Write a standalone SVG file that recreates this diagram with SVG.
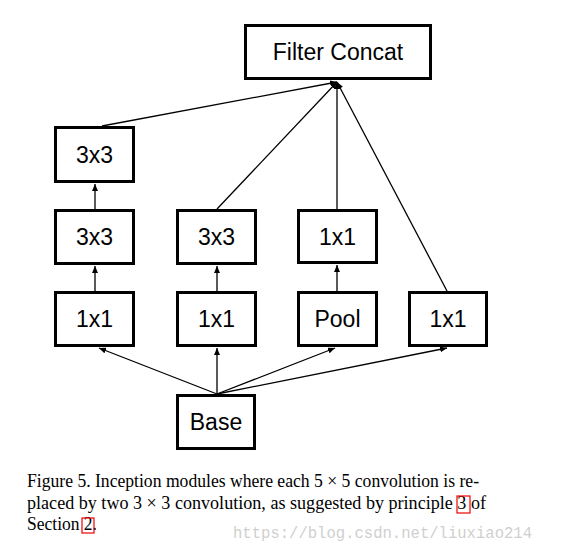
<svg xmlns="http://www.w3.org/2000/svg" width="581" height="553" viewBox="0 0 581 553">
<style>
.box{fill:#fff;stroke:#000;stroke-width:3}
.lbl{font-family:"Liberation Sans",Arial,sans-serif;font-size:23px;text-anchor:middle;fill:#000}
.c{stroke:#000;stroke-width:1.3;fill:none}
.cap{font-family:"Liberation Serif","Times New Roman",serif;font-size:19.5px;fill:#000}
.ref{fill:none;stroke:#e00;stroke-width:1.2}
.wm{font-family:"Liberation Mono","DejaVu Sans Mono",monospace;font-size:16px;fill:#cfcfcf}
</style>
<defs>
<marker id="ah" markerUnits="userSpaceOnUse" markerWidth="8" markerHeight="6" refX="7" refY="3" orient="auto">
<path d="M0,0 L7,3 L0,6 z" fill="#000"/>
</marker>
</defs>
<rect width="581" height="553" fill="#fff"/>
<g id="connectors">
<line class="c" x1="102" y1="126" x2="337" y2="82" marker-end="url(#ah)"/>
<line class="c" x1="217" y1="209" x2="337" y2="82" marker-end="url(#ah)"/>
<line class="c" x1="337" y1="209" x2="337" y2="82" marker-end="url(#ah)"/>
<line class="c" x1="447" y1="291" x2="337" y2="82" marker-end="url(#ah)"/>
<line class="c" x1="95" y1="209" x2="95" y2="184" marker-end="url(#ah)"/>
<line class="c" x1="95" y1="291" x2="95" y2="266" marker-end="url(#ah)"/>
<line class="c" x1="217" y1="291" x2="217" y2="266" marker-end="url(#ah)"/>
<line class="c" x1="337" y1="291" x2="337" y2="265" marker-end="url(#ah)"/>
<line class="c" x1="217" y1="394" x2="99" y2="348" marker-end="url(#ah)"/>
<line class="c" x1="217" y1="394" x2="217" y2="348" marker-end="url(#ah)"/>
<line class="c" x1="217" y1="394" x2="335" y2="348" marker-end="url(#ah)"/>
<line class="c" x1="217" y1="394" x2="447" y2="348" marker-end="url(#ah)"/>
</g>
<g id="concat"><rect class="box" x="245.5" y="25.5" width="185" height="53"/><text class="lbl" x="338" y="59.5">Filter Concat</text></g>
<g id="c1_3x3b"><rect class="box" x="55.5" y="127.5" width="78" height="54"/><text class="lbl" x="94.5" y="162.5">3x3</text></g>
<g id="c1_3x3a"><rect class="box" x="55.5" y="210.5" width="78" height="53"/><text class="lbl" x="94.5" y="245">3x3</text></g>
<g id="c1_1x1"><rect class="box" x="55.5" y="292.5" width="78" height="53"/><text class="lbl" x="94.5" y="327">1x1</text></g>
<g id="c2_3x3"><rect class="box" x="177.5" y="210.5" width="78" height="53"/><text class="lbl" x="216.5" y="245">3x3</text></g>
<g id="c2_1x1"><rect class="box" x="177.5" y="292.5" width="78" height="53"/><text class="lbl" x="216.5" y="327">1x1</text></g>
<g id="c3_1x1"><rect class="box" x="298.5" y="210.5" width="78" height="52"/><text class="lbl" x="337.5" y="244.5">1x1</text></g>
<g id="c3_pool"><rect class="box" x="298.5" y="292.5" width="78" height="53"/><text class="lbl" x="337.5" y="327">Pool</text></g>
<g id="c4_1x1"><rect class="box" x="409.5" y="292.5" width="77" height="53"/><text class="lbl" x="448" y="327">1x1</text></g>
<g id="base"><rect class="box" x="177.5" y="395.5" width="77" height="53"/><text class="lbl" x="216" y="430">Base</text></g>
<text class="cap" x="27" y="487" textLength="452" lengthAdjust="spacingAndGlyphs">Figure 5. Inception modules where each 5 × 5 convolution is re-</text>
<text class="cap" x="27" y="509" textLength="459" lengthAdjust="spacingAndGlyphs">placed by two 3 × 3 convolution, as suggested by principle 3 of</text>
<text class="cap" x="27" y="530" textLength="70" lengthAdjust="spacingAndGlyphs">Section 2.</text>
<rect class="ref" x="457" y="496" width="13" height="17"/>
<rect class="ref" x="82" y="518" width="12" height="15"/>
<text class="wm" x="233" y="538" textLength="299" lengthAdjust="spacingAndGlyphs">https://blog.csdn.net/liuxiao214</text>
</svg>
